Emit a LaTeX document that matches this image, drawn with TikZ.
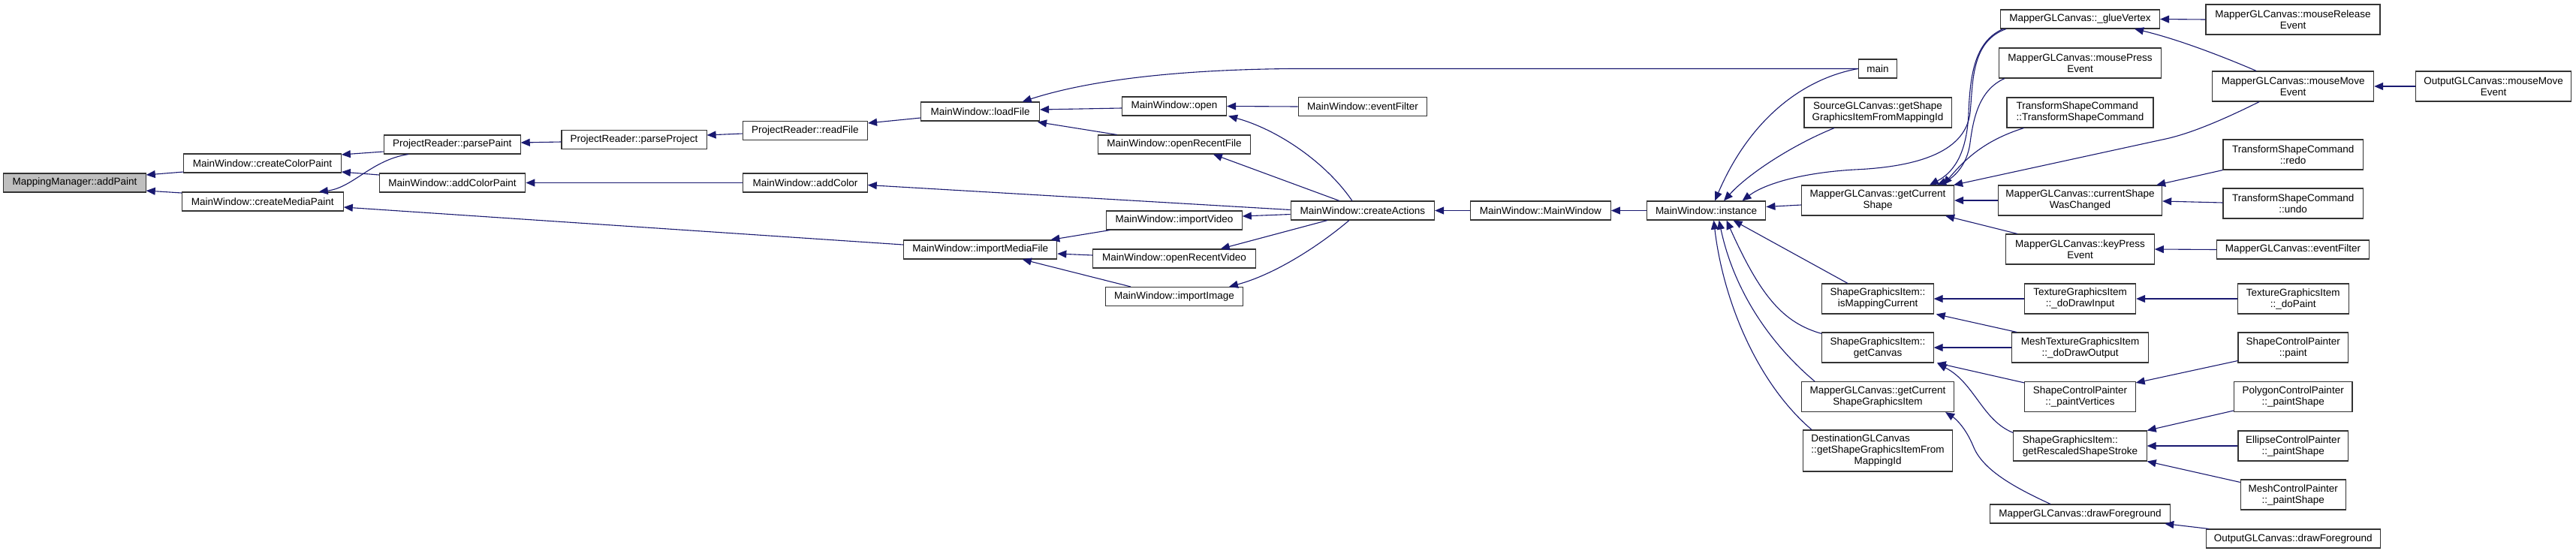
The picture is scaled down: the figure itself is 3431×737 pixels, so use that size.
\documentclass[tikz,border=0pt]{standalone}
\usepackage{fontspec}
\setmainfont{Liberation Sans}
\usepackage{xcolor}
\usetikzlibrary{arrows.meta,calc}
\definecolor{edgeblue}{RGB}{25,25,112}
\definecolor{rootgray}{RGB}{191,191,191}
\newcommand\fnfont{\fontsize{13.5pt}{15pt}\selectfont}
\tikzset{
  call/.style={draw=edgeblue, line width=1.1pt, -{Triangle[length=12pt,width=10pt]}},
  cg/.style={every edge/.style={call}},
  fn/.style={
    draw=black!80, line width=1.1pt, fill=white, inner sep=2pt,
    minimum height=25pt, font=\fnfont, align=center
  },
  fnroot/.style={fn, fill=rootgray},
  fntwo/.style={fn, minimum height=40pt},
}

\begin{document}
\begin{tikzpicture}[cg, x=1pt, y=-1pt]
  \fill[white] (0,0) rectangle (3431,737);
  \useasboundingbox (0,0) rectangle (3431,737);

  % callers, left to right
  \node[fnroot, minimum width=189.4pt] (addPaint) at (99.5,243.5) {MappingManager::addPaint};
  \node[fn, minimum width=209.4pt] (cColor) at (349.6,217.5) {MainWindow::createColorPaint};
  \node[fn, minimum width=214.9pt] (cMedia) at (349.8,268.5) {MainWindow::createMediaPaint};
  \node[fn, minimum width=182pt] (parsePaint) at (602.2,192.5) {ProjectReader::parsePaint};
  \node[fn, minimum width=194.5pt] (addColorPaint) at (602.6,243.5) {MainWindow::addColorPaint};
  \node[fn, minimum width=193.1pt] (parseProject) at (844.5,186) {ProjectReader::parseProject};
  \node[fn, minimum width=166.4pt] (readFile) at (1072.3,174) {ProjectReader::readFile};
  \node[fn, minimum width=165.4pt] (addColor) at (1072.5,243.5) {MainWindow::addColor};
  \node[fn, minimum width=157.6pt] (loadFile) at (1305.7,148.5) {MainWindow::loadFile};
  \node[fn, minimum width=204.2pt] (importMediaFile) at (1305.7,332.5) {MainWindow::importMediaFile};
  \node[fn, minimum width=139.1pt] (open) at (1564,141.5) {MainWindow::open};
  \node[fn, minimum width=202.7pt] (openRecentFile) at (1564,192.5) {MainWindow::openRecentFile};
  \node[fn, minimum width=180.5pt] (importVideo) at (1564,293.5) {MainWindow::importVideo};
  \node[fn, minimum width=216.4pt] (openRecentVideo) at (1564,344.5) {MainWindow::openRecentVideo};
  \node[fn, minimum width=182.8pt] (importImage) at (1564,395) {MainWindow::importImage};
  \node[fn, minimum width=171.3pt] (mwEventFilter) at (1814.9,142) {MainWindow::eventFilter};
  \node[fn, minimum width=191.3pt] (createActions) at (1814.9,280.5) {MainWindow::createActions};
  \node[fn, minimum width=187.2pt] (mainWindow) at (2051.8,280.5) {MainWindow::MainWindow};
  \node[fn, minimum width=158.7pt] (instance) at (2272.5,280.5) {MainWindow::instance};

  \node[fn, minimum width=51.1pt] (main) at (2500.9,91.5) {main};
  \node[fntwo, minimum width=196.1pt] (srcGetShape) at (2501,150) {SourceGLCanvas::getShape\\GraphicsItemFromMappingId};
  \node[fntwo, minimum width=203.1pt] (getCurShape) at (2501,267) {MapperGLCanvas::getCurrent\\Shape};
  \node[fntwo, minimum width=148.3pt] (isMapCur) at (2501,398) {ShapeGraphicsItem::\\isMappingCurrent};
  \node[fntwo, minimum width=148.3pt] (getCanvas) at (2501,463) {ShapeGraphicsItem::\\getCanvas};
  \node[fntwo, minimum width=203.1pt] (getCurSGI) at (2501,528.5) {MapperGLCanvas::getCurrent\\ShapeGraphicsItem};
  \node[fn, minimum width=199pt, minimum height=55pt] (destGetShape) at (2501,600.5)
    {\begin{tabular}{@{}l@{}}DestinationGLCanvas\\::getShapeGraphicsItemFrom\\\multicolumn{1}{@{}c@{}}{MappingId}\end{tabular}};

  \node[fn, minimum width=212pt] (glueVertex) at (2770.5,25.5) {MapperGLCanvas::\_glueVertex};
  \node[fntwo, minimum width=216pt] (mousePress) at (2770.5,84) {MapperGLCanvas::mousePress\\Event};
  \node[fntwo, minimum width=195pt, align=left] (tscCtor) at (2770.5,150) {TransformShapeCommand\\::TransformShapeCommand};
  \node[fntwo, minimum width=218.2pt] (curShapeChanged) at (2770.5,267) {MapperGLCanvas::currentShape\\WasChanged};
  \node[fntwo, minimum width=197.5pt] (keyPress) at (2770.5,332) {MapperGLCanvas::keyPress\\Event};
  \node[fntwo, minimum width=148.3pt] (doDrawInput) at (2770.5,398) {TextureGraphicsItem\\::\_doDrawInput};
  \node[fntwo, minimum width=181.6pt] (meshTexOut) at (2770.5,463) {MeshTextureGraphicsItem\\::\_doDrawOutput};
  \node[fntwo, minimum width=147.2pt] (paintVertices) at (2770.5,528.5) {ShapeControlPainter\\::\_paintVertices};
  \node[fntwo, minimum width=177.2pt, align=left] (rescaledStroke) at (2770.5,594) {ShapeGraphicsItem::\\getRescaledShapeStroke};
  \node[fn, minimum width=240.4pt] (mapperDrawFg) at (2770.5,684.5) {MapperGLCanvas::drawForeground};

  \node[fntwo, minimum width=232pt] (mouseRelease) at (3054,26) {MapperGLCanvas::mouseRelease\\Event};
  \node[fntwo, minimum width=214.9pt] (mouseMove) at (3054.2,115) {MapperGLCanvas::mouseMove\\Event};
  \node[fntwo, minimum width=186.4pt] (redo) at (3054.2,206) {TransformShapeCommand\\::redo};
  \node[fntwo, minimum width=186.4pt] (undo) at (3054.2,271) {TransformShapeCommand\\::undo};
  \node[fn, minimum width=203pt] (mapperEventFilter) at (3054,332.5) {MapperGLCanvas::eventFilter};
  \node[fntwo, minimum width=148pt] (doPaint) at (3054.2,398) {TextureGraphicsItem\\::\_doPaint};
  \node[fntwo, minimum width=146.4pt] (scpPaint) at (3054.2,463) {ShapeControlPainter\\::paint};
  \node[fntwo, minimum width=157.6pt] (polyPaint) at (3054.2,528.5) {PolygonControlPainter\\::\_paintShape};
  \node[fntwo, minimum width=146.4pt] (ellipsePaint) at (3054.2,594) {EllipseControlPainter\\::\_paintShape};
  \node[fntwo, minimum width=139.8pt] (meshPaint) at (3054.2,659) {MeshControlPainter\\::\_paintShape};
  \node[fn, minimum width=232.3pt] (outDrawFg) at (3054.2,717.5) {OutputGLCanvas::drawForeground};
  \node[fntwo, minimum width=206.8pt] (outMouseMove) at (3321.1,115) {OutputGLCanvas::mouseMove\\Event};

  % calls, caller to callee
  \path ($(cColor.west)+(0,11.5)$) edge ($(addPaint.east)+(0,-10.5)$);
  \path ($(cMedia.west)+(0,-11.5)$) edge ($(addPaint.east)+(0,10.5)$);
  \path ($(parsePaint.west)+(0,9.5)$) edge ($(cColor.east)+(0,-11.5)$);
  \path ($(addColorPaint.west)+(0,-10.5)$) edge ($(cColor.east)+(0,11.5)$);
  \draw[call] ($(parsePaint.south)+(-58.4,0)$) .. controls (495,213) and (470,250) .. ($(cMedia.north)+(75,0)$);
  \path ($(importMediaFile.west)+(0,-6.5)$) edge ($(cMedia.east)+(0,7.5)$);
  \path ($(parseProject.west)+(0,3)$) edge ($(parsePaint.east)+(0,-2.5)$);
  \path ($(readFile.west)+(0,4)$) edge ($(parseProject.east)+(0,-6)$);
  \path (addColor.west) edge (addColorPaint.east);
  \path ($(loadFile.west)+(0,8.5)$) edge ($(readFile.east)+(0,-10)$);
  \path ($(open.west)+(0,2.5)$) edge ($(loadFile.east)+(0,-2.5)$);
  \path ($(openRecentFile.north)+(-76.3,0)$) edge ($(loadFile.south east)+(-3,1)$);
  \draw[call] (main.west) -- (1720,91.5) .. controls (1550,93) and (1440,110) .. ($(loadFile.north)+(56,0)$);
  \path (mwEventFilter.west) edge (open.east);
  \draw[call] ($(createActions.north)+(-14,0)$) .. controls (1765,215) and (1700,172) .. ($(open.south east)+(2,0)$);
  \path ($(createActions.north)+(-31,0)$) edge ($(openRecentFile.south east)+(-50,0)$);
  \path ($(createActions.west)+(0,-1)$) edge ($(addColor.east)+(0,3)$);
  \path ($(createActions.west)+(0,5)$) edge ($(importVideo.east)+(0,-5.5)$);
  \path ($(createActions.south)+(-47,0)$) edge ($(openRecentVideo.north east)+(-47,0)$);
  \draw[call] ($(createActions.south)+(-18,0)$) .. controls (1760,325) and (1700,365) .. ($(importImage.north east)+(-19,0)$);
  \path ($(importVideo.south west)+(5,0)$) edge ($(importMediaFile.north east)+(-9,0)$);
  \path ($(openRecentVideo.west)+(0,-4.5)$) edge ($(importMediaFile.east)+(0,5.5)$);
  \path ($(importImage.north)+(-58,0)$) edge ($(importMediaFile.south)+(56,0)$);
  \path (mainWindow.west) edge (createActions.east);
  \path (instance.west) edge (mainWindow.east);

  % into MainWindow::instance
  \draw[call] (main.west) .. controls (2400,105) and (2330,160) .. ($(instance.north)+(11.5,0)$);
  \draw[call] ($(srcGetShape.south)+(-58,0)$) .. controls (2390,192) and (2330,230) .. ($(instance.north)+(23.5,0)$);
  \draw[call] ($(glueVertex.south west)+(8,0)$) .. controls (2625,55) and (2628,110) .. (2624,150)
    .. controls (2618,200) and (2560,222) .. (2470,226) .. controls (2400,230) and (2350,245) .. ($(instance.north)+(48,0)$);
  \path ($(getCurShape.west)+(0,6)$) edge ($(instance.east)+(0,-5)$);
  \path ($(isMapCur.north)+(-40,0)$) edge ($(instance.south)+(36,0)$);
  \draw[call] ($(getCanvas.north west)+(0,2)$) .. controls (2375,430) and (2345,395) .. ($(instance.south)+(27,0)$);
  \draw[call] ($(getCurSGI.north)+(-84,0)$) .. controls (2360,460) and (2310,390) .. ($(instance.south)+(17,0)$);
  \draw[call] ($(destGetShape.north)+(-88,0)$) .. controls (2340,510) and (2295,400) .. ($(instance.south)+(10,0)$);

  % into getCurrentShape
  \draw[call] ($(glueVertex.south west)+(4,0)$) .. controls (2630,55) and (2624,100) .. (2622,150)
    .. controls (2620,200) and (2605,228) .. ($(getCurShape.north)+(69,0)$);
  \draw[call] ($(mousePress.south west)+(8,0)$) .. controls (2635,120) and (2628,160) .. (2624,190)
    .. controls (2620,222) and (2600,238) .. ($(getCurShape.north)+(79,0)$);
  \draw[call] ($(tscCtor.south west)+(23,0)$) .. controls (2640,188) and (2615,215) .. ($(getCurShape.north)+(87,0)$);
  \draw[call] ($(mouseMove.south)+(-45,0)$) .. controls (2950,165) and (2910,180) .. (2880,186) -- ($(getCurShape.north east)+(-1,0)$);
  \path (curShapeChanged.west) edge (getCurShape.east);
  \path ($(keyPress.north)+(-83.5,0)$) edge ($(getCurShape.south east)+(-12,0)$);

  % right side
  \path (mouseRelease.west) edge (glueVertex.east);
  \draw[call] ($(mouseMove.north)+(-49,0)$) .. controls (2960,75) and (2900,52) .. ($(glueVertex.south east)+(-34,0)$);
  \path (outMouseMove.west) edge (mouseMove.east);
  \path (redo.south west) edge ($(curShapeChanged.north east)+(-8,0)$);
  \path ($(undo.west)+(0,-1)$) edge ($(curShapeChanged.east)+(0,1)$);
  \path (mapperEventFilter.west) edge (keyPress.east);
  \path (doDrawInput.west) edge (isMapCur.east);
  \path ($(meshTexOut.north west)+(7,0)$) edge ($(isMapCur.south east)+(3,0)$);
  \path (meshTexOut.west) edge (getCanvas.east);
  \path ($(paintVertices.north west)+(0,2)$) edge ($(getCanvas.south east)+(4,0)$);
  \draw[call] ($(rescaledStroke.north west)+(0,3)$) .. controls (2640,560) and (2630,510) .. ($(getCanvas.south east)+(5,1)$);
  \draw[call] ($(mapperDrawFg.north)+(-39.5,0)$) .. controls (2680,648) and (2640,625) .. (2628,594)
    .. controls (2618,570) and (2605,558) .. ($(getCurSGI.south east)+(-12,0)$);
  \path (doPaint.west) edge (doDrawInput.east);
  \path ($(scpPaint.south west)+(0,-3)$) edge ($(paintVertices.north east)+(0,2)$);
  \path ($(polyPaint.south west)+(0,-2)$) edge (rescaledStroke.north east);
  \path (ellipsePaint.west) edge (rescaledStroke.east);
  \path ($(meshPaint.north west)+(0,4)$) edge (rescaledStroke.south east);
  \path ($(outDrawFg.north west)+(4.5,0)$) edge ($(mapperDrawFg.south east)+(-8,0)$);
\end{tikzpicture}
\end{document}
